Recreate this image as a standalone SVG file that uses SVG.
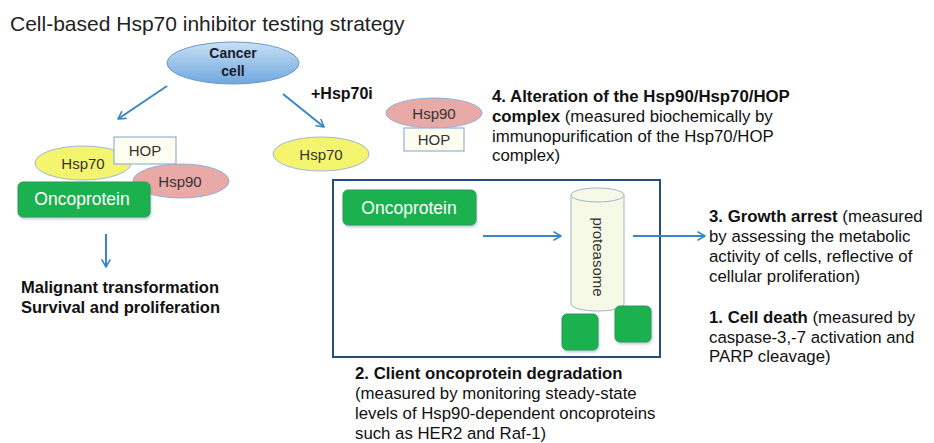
<svg xmlns="http://www.w3.org/2000/svg" width="934" height="443" viewBox="0 0 934 443">
  <defs>
    <linearGradient id="cellFill" x1="0" y1="0" x2="0" y2="1">
      <stop offset="0" stop-color="#c9e0f5"/>
      <stop offset="1" stop-color="#6ea7de"/>
    </linearGradient>
    <filter id="soft" x="-10%" y="-10%" width="125%" height="135%">
      <feDropShadow dx="1" dy="2" stdDeviation="1.2" flood-color="#5a7a9a" flood-opacity="0.35"/>
    </filter>
    <marker id="chev" viewBox="0 0 10 10" refX="8" refY="5" markerWidth="5" markerHeight="5" orient="auto" markerUnits="strokeWidth">
      <path d="M1,1 L8,5 L1,9" fill="none" stroke="#3a86c6" stroke-width="1.6" stroke-linecap="round" stroke-linejoin="round"/>
    </marker>
  </defs>
  <style>
    text { font-family: "Liberation Sans", Arial, sans-serif; fill: #111; }
    .title { font-size: 21px; fill: #222; }
    .lbl { font-size: 15px; text-anchor: middle; fill: #333; }
    .b { font-weight: bold; }
    .body { font-size: 16.8px; }
    .onco { font-size: 17.5px; fill: #fff; text-anchor: middle; }
    .hsp70 { fill: #f5f46e; stroke: #9fb8d8; stroke-width: 1; }
    .hsp90 { fill: #e9a9a7; stroke: #8fb0d8; stroke-width: 1; }
    .hop { fill: #fdfdf0; stroke: #8fb3d9; stroke-width: 1.2; }
    .green { fill: #1fb14f; stroke: #2b9a55; stroke-width: 1; filter: url(#soft); }
    .conn line { stroke: #3a86c6; stroke-width: 2; fill: none; marker-end: url(#chev); }
  </style>

  <text class="title" x="10" y="31">Cell-based Hsp70 inhibitor testing strategy</text>

  <g id="cancer-cell">
    <ellipse cx="233" cy="63" rx="66" ry="21" fill="url(#cellFill)" stroke="#6a98cc" stroke-width="1"/>
    <text class="lbl b" x="233" y="58" style="fill:#1a1a2a;font-size:14px">Cancer</text>
    <text class="lbl b" x="233" y="76" style="fill:#1a1a2a;font-size:14px">cell</text>
  </g>

  <text class="b" x="311" y="99" style="font-size:16px">+Hsp70i</text>

  <!-- untreated chaperone complex -->
  <g id="complex-left">
    <ellipse class="hsp70" cx="83" cy="163" rx="48" ry="17"/>
    <text class="lbl" x="83" y="169">Hsp70</text>
    <rect class="hop" x="114" y="137" width="62" height="27"/>
    <text class="lbl" x="145" y="156">HOP</text>
    <ellipse class="hsp90" cx="181" cy="181" rx="48" ry="17"/>
    <text class="lbl" x="180" y="187">Hsp90</text>
  </g>
  <g id="oncoprotein-left">
    <rect class="green" x="18" y="182" width="132" height="35" rx="5"/>
    <text class="onco" x="82" y="205">Oncoprotein</text>
  </g>
  <g id="outcome-left">
    <text class="b" x="21" y="293" style="font-size:16.5px">Malignant transformation</text>
    <text class="b" x="21" y="313" style="font-size:16.5px">Survival and proliferation</text>
  </g>

  <!-- treated branch -->
  <g id="hsp70-free">
    <ellipse class="hsp70" cx="321" cy="154" rx="48" ry="17"/>
    <text class="lbl" x="321" y="160">Hsp70</text>
  </g>
  <g id="hsp90-hop">
    <ellipse class="hsp90" cx="434" cy="113" rx="48" ry="15"/>
    <text class="lbl" x="434" y="119">Hsp90</text>
    <rect class="hop" x="404" y="128" width="60" height="23"/>
    <text class="lbl" x="434" y="145">HOP</text>
  </g>
  <g id="readout-4">
    <text class="body" x="492" y="102"><tspan class="b">4. Alteration of the Hsp90/Hsp70/HOP</tspan></text>
    <text class="body" x="492" y="122"><tspan class="b">complex</tspan> (measured biochemically by</text>
    <text class="body" x="492" y="142">immunopurification of the Hsp70/HOP</text>
    <text class="body" x="492" y="161">complex)</text>
  </g>

  <!-- degradation panel -->
  <g id="degradation-box">
    <rect x="333" y="180" width="327" height="177" fill="#fff" stroke="#24507e" stroke-width="2"/>
  </g>
  <g id="oncoprotein-right">
    <rect class="green" x="343" y="190" width="133" height="35" rx="5"/>
    <text class="onco" x="409" y="214">Oncoprotein</text>
  </g>
  <g id="proteasome">
    <path d="M571,195 L571,304 A26.5,7 0 0 0 624,304 L624,195" fill="#f6f9e6" stroke="#9fb4c8" stroke-width="1"/>
    <ellipse cx="597.5" cy="195" rx="26.5" ry="7" fill="#f6f9e6" stroke="#9fb4c8" stroke-width="1"/>
    <text x="598" y="257" transform="rotate(90 598 257)" style="font-size:15px;text-anchor:middle;dominant-baseline:central;fill:#333">proteasome</text>
  </g>
  <g id="fragments">
    <rect class="green" x="562" y="314" width="36" height="36" rx="5"/>
    <rect class="green" x="615" y="306" width="36" height="36" rx="5"/>
  </g>

  <g id="readout-2">
    <text class="body" x="355" y="379"><tspan class="b">2. Client oncoprotein degradation</tspan></text>
    <text class="body" x="355" y="399">(measured by monitoring steady-state</text>
    <text class="body" x="355" y="419">levels of Hsp90-dependent oncoproteins</text>
    <text class="body" x="355" y="439">such as HER2 and Raf-1)</text>
  </g>

  <g id="readout-3">
    <text class="body" x="709" y="222"><tspan class="b">3. Growth arrest</tspan> (measured</text>
    <text class="body" x="709" y="242">by assessing the metabolic</text>
    <text class="body" x="709" y="262">activity of cells, reflective of</text>
    <text class="body" x="709" y="282">cellular proliferation)</text>
  </g>
  <g id="readout-1">
    <text class="body" x="709" y="323"><tspan class="b">1. Cell death</tspan> (measured by</text>
    <text class="body" x="709" y="343">caspase-3,-7 activation and</text>
    <text class="body" x="709" y="362">PARP cleavage)</text>
  </g>

  <g id="connectors" class="conn">
    <line x1="167" y1="86" x2="118" y2="119"/>
    <line x1="283" y1="94" x2="324" y2="127"/>
    <line x1="106" y1="234" x2="106" y2="267"/>
    <line x1="483" y1="236" x2="561" y2="236"/>
    <line x1="633" y1="236" x2="705" y2="236"/>
  </g>
</svg>
